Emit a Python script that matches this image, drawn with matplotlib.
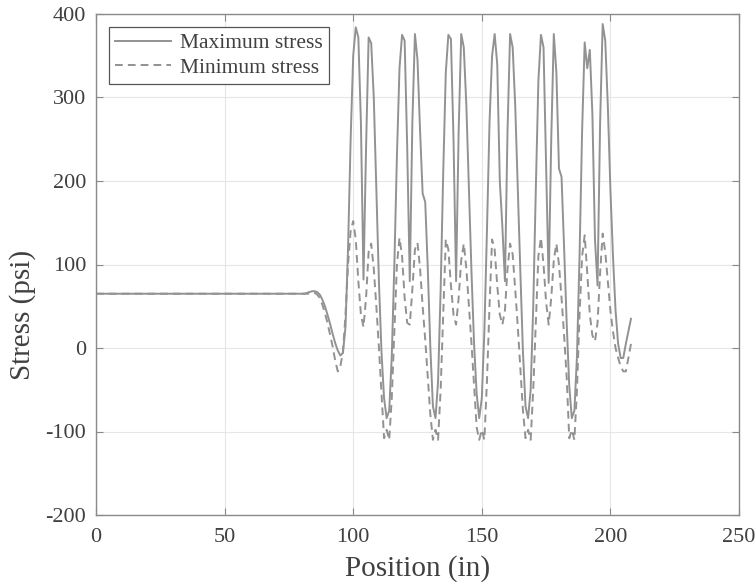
import numpy as np
import matplotlib
matplotlib.use('Agg')
from matplotlib import pyplot as plt

plt.rcParams['font.family'] = ['Liberation Serif', 'DejaVu Serif']
plt.rcParams['axes.unicode_minus'] = False

# position along the member (in)
pos = [0, 40, 80,
       81, 82, 83, 84, 85, 86, 87, 88, 89, 90,
       91, 92, 93, 94, 95, 96, 97, 98, 99, 100,
       101, 102, 103, 104, 105, 106, 107, 108, 109, 110,
       111, 112, 113, 114, 115, 116, 117, 118, 119, 120,
       121, 122, 123, 124, 125, 126, 127, 128, 129, 130,
       131, 132, 133, 134, 135, 136, 137, 138, 139, 140,
       141, 142, 143, 144, 145, 146, 147, 148, 149, 150,
       151, 152, 153, 154, 155, 156, 157, 158, 159, 160,
       161, 162, 163, 164, 165, 166, 167, 168, 169, 170,
       171, 172, 173, 174, 175, 176, 177, 178, 179, 180,
       181, 182, 183, 184, 185, 186, 187, 188, 189, 190,
       191, 192, 193, 194, 195, 196, 197, 198, 199, 200,
       201, 202, 203, 204, 205, 206, 207, 208]

# maximum stress (psi)
max_stress = [65, 65, 65,
              65, 66, 67, 68, 68, 67, 64, 58, 50, 40,
              29, 17, 6, -3, -9, -6, 25, 120, 250, 350,
              384, 372, 270, 82, 240, 372, 365, 300, 190, 80,
              -5, -60, -84, -75, -10, 100, 230, 335, 375, 368,
              240, 80, 270, 376, 345, 260, 185, 175, 95, 0,
              -70, -84, -40, 70, 210, 330, 375, 370, 250, 80,
              260, 376, 360, 290, 190, 90, 5, -55, -84, -60,
              20, 140, 270, 350, 376, 340, 200, 145, 80, 260,
              376, 360, 290, 190, 90, -5, -70, -84, -50, 50,
              190, 320, 375, 360, 220, 78, 250, 376, 330, 215,
              205, 120, 30, -45, -84, -75, -10, 110, 260, 366,
              335, 357, 280, 130, 75, 270, 388, 368, 290, 190,
              110, 45, 5, -12, -12, 5, 20, 35]

# minimum stress (psi)
min_stress = [65, 65, 65,
              65, 65, 65, 66, 66, 64, 60, 52, 42, 30,
              16, 2, -15, -28, -22, -5, 40, 100, 140, 152,
              130, 80, 40, 25, 60, 115, 125, 95, 50, 0,
              -55, -108, -98, -110, -60, 20, 100, 132, 110, 60,
              30, 28, 70, 118, 126, 95, 50, 10, -35, -80,
              -110, -98, -110, -50, 40, 130, 118, 75, 40, 28,
              60, 105, 125, 95, 50, 5, -45, -95, -110, -98,
              -110, -40, 50, 130, 118, 75, 40, 28, 45, 95,
              125, 112, 70, 25, -25, -75, -108, -98, -110, -50,
              30, 110, 132, 100, 55, 28, 60, 105, 125, 100,
              60, 15, -35, -108, -98, -110, -50, 40, 110, 135,
              90, 40, 15, 8, 30, 90, 137, 115, 80, 45,
              20, 0, -12, -22, -28, -28, -12, 5]

fig = plt.figure(figsize=(7.56, 5.82), dpi=100)
ax = fig.add_axes([96 / 756, 67 / 582, 643 / 756, 501 / 582])

ax.plot(pos, max_stress, color='#929292', lw=1.4, label='Maximum stress')
ax.plot(pos, min_stress, color='#929292', lw=1.4, ls=(0, (4, 2.6)),
        label='Minimum stress')

ax.set_xlim(0, 250)
ax.set_ylim(-200, 400)
ax.set_xticks([0, 50, 100, 150, 200, 250])
ax.set_yticks([-200, -100, 0, 100, 200, 300, 400])
ax.grid(True, color='#e6e6e6', lw=0.8)
ax.set_axisbelow(True)

for s in ax.spines.values():
    s.set_color('#8a8a8a')
    s.set_linewidth(1.0)
ax.tick_params(direction='in', top=True, right=True, length=5, width=0.8,
               color='#8a8a8a', labelsize=16, labelcolor='#404040')
ax.tick_params(axis='x', pad=9)
ax.tick_params(axis='y', pad=7)

ax.set_xlabel('Position (in)', fontsize=21, color='#404040', labelpad=6)
ax.set_ylabel('Stress (psi)', fontsize=21, color='#404040')
ax.yaxis.set_label_coords(-0.093, 0.40)

leg = ax.legend(loc='upper left', fontsize=15.5, frameon=True, fancybox=False,
                edgecolor='#555555', framealpha=1, handlelength=2.6,
                borderaxespad=0.6, labelspacing=0.2, handletextpad=0.4,
                borderpad=0.3)
leg.get_frame().set_linewidth(0.9)
for t in leg.get_texts():
    t.set_color('#404040')

plt.savefig('out.png', dpi=100)
